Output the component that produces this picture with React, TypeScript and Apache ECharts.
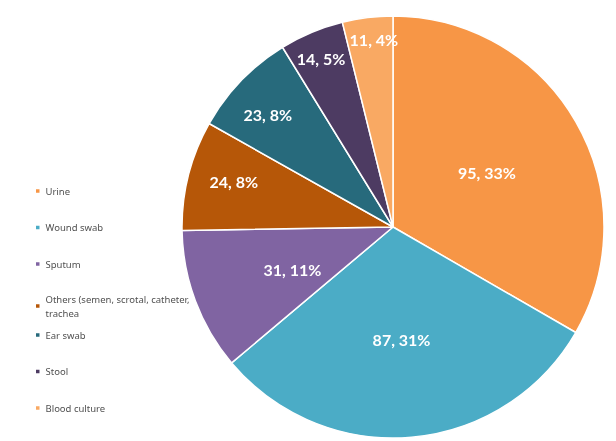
import React, { useEffect, useRef } from "react";
import * as echarts from "echarts";

// Specimen types and their counts
const categories = [
  "Urine",
  "Wound swab",
  "Sputum",
  "Others (semen, scrotal, catheter, trachea",
  "Ear swab",
  "Stool",
  "Blood culture",
];
const counts = [95, 87, 31, 24, 23, 14, 11];

// Slice colours, in category order
const colors = ["#F79646", "#4BACC6", "#8064A2", "#B65708", "#276A7C", "#4D3B62", "#F9A963"];

// Nudges for the slice labels (px), relative to the default inside position
const labelOffsets: [number, number][] = [
  [0, 0],
  [-1, 4],
  [1, 4],
  [-54, -19],
  [-47, -37],
  [-30, -68],
  [-6, -80],
];

export default function App() {
  const ref = useRef<HTMLDivElement>(null);

  useEffect(() => {
    if (!ref.current) return;
    const chart = echarts.init(ref.current, undefined, { renderer: "svg" });
    const total = counts.reduce((a, b) => a + b, 0);

    const legendText = {
      fontFamily: "Noto Sans",
      fontSize: 9.5,
      color: "#505050",
      lineHeight: 14,
    };
    const legendBase = {
      orient: "vertical" as const,
      left: 34,
      padding: 0,
      itemWidth: 5.5,
      itemHeight: 5.5,
      itemGap: 22.5,
      icon: "rect",
      selectedMode: false,
      textStyle: legendText,
    };

    chart.setOption({
      animation: false,
      color: colors,
      legend: [
        { ...legendBase, top: 184, data: categories.slice(0, 3) },
        {
          ...legendBase,
          top: 285,
          data: [categories[3]],
          textStyle: { ...legendText, width: 150, overflow: "break", padding: [14, 0, 0, 0] },
        },
        { ...legendBase, top: 328, data: categories.slice(4) },
      ],
      series: [
        {
          type: "pie",
          center: [393, 227],
          radius: [0, 211],
          startAngle: 90,
          clockwise: true,
          itemStyle: { borderColor: "#ffffff", borderWidth: 1.5 },
          labelLine: { show: false },
          emphasis: { disabled: true },
          data: categories.map((name, i) => ({
            name,
            value: counts[i],
            label: { offset: labelOffsets[i] },
          })),
          label: {
            show: true,
            position: "inside",
            color: "#ffffff",
            fontFamily: "Lato",
            fontWeight: "bold",
            fontSize: 16,
            formatter: (p: any) => `${p.value}, ${Math.round((p.value / total) * 100)}%`,
          },
        },
      ],
      graphic: [
        {
          type: "polyline",
          silent: true,
          shape: { points: [[238, 142], [240, 123], [243, 123]] },
          style: { stroke: "#a7bcc2", lineWidth: 0.8, fill: null },
        },
      ],
    });

    return () => chart.dispose();
  }, []);

  return (
    <div
      ref={ref}
      style={{ position: "fixed", left: 0, top: 0, width: 616, height: 441 }}
    />
  );
}
